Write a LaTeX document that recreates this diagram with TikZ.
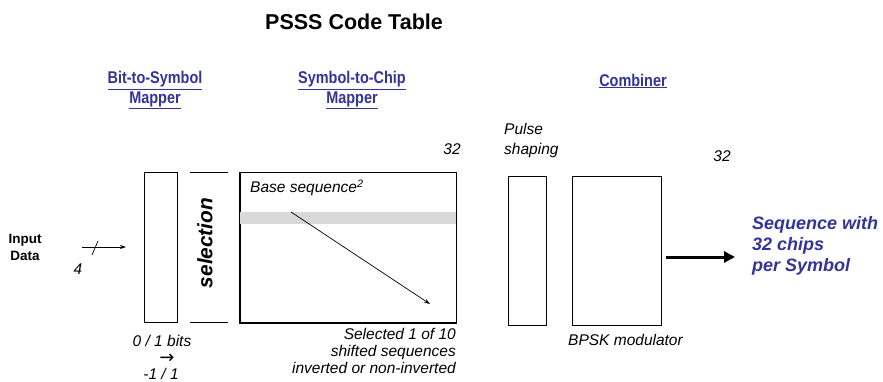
\documentclass[tikz,border=0pt]{standalone}
\usepackage{fontspec}
\setmainfont{Liberation Sans}
\newfontfamily\narrowfont[FakeStretch=0.85]{Liberation Sans}
\newfontfamily\symfont{DejaVu Sans}
\usetikzlibrary{arrows.meta}
\definecolor{hdblue}{HTML}{333399}
\tikzset{
  blk/.style={draw, line width=0.9pt, inner sep=0, fill=white},
  lbl/.style={inner sep=0, font=\fontsize{15.5}{17}\selectfont\itshape},
  hdr/.style={inner sep=0, align=center, text=hdblue,
    font=\narrowfont\bfseries\fontsize{17}{16}\selectfont},
  thinarrow/.style={line width=0.7pt, -{Stealth[length=6pt,width=4pt]}},
}
\begin{document}
\begin{tikzpicture}[x=1pt,y=-1pt]
\useasboundingbox (0,0) rectangle (883,381);
% title
\node[inner sep=0, font=\bfseries\fontsize{21.5}{24}\selectfont] (title) at (354,22) {PSSS Code Table};
% headers
\node[hdr] (h1) at (155,90) {\underline{Bit-to-Symbol}\\[1pt]\underline{Mapper}};
\node[hdr] (h2) at (352,90) {\underline{Symbol-to-Chip}\\[1pt]\underline{Mapper}};
\node[hdr] (h3) at (633,81) {\underline{Combiner}};
% input
\node[inner sep=0, align=center, font=\bfseries\fontsize{13.5}{17}\selectfont] (inp) at (25,247) {Input\\Data};
\coordinate (ia) at (82,247);
\coordinate (ib) at (126,247);
\draw[thinarrow] (ia) -- (ib);
\coordinate (s1) at (92,255);
\coordinate (s2) at (98,241);
\draw[line width=0.7pt] (s1) -- (s2);
\node[lbl] (four) at (78,269) {4};
% bit-to-symbol box
\node[blk, minimum width=33pt, minimum height=150pt] (bsm) at (160.5,247) {};
% selection
\coordinate (selt1) at (190,172);
\coordinate (selt2) at (228,172);
\coordinate (selb1) at (190,322);
\coordinate (selb2) at (228,322);
\draw[line width=0.9pt] (selt1) -- (selt2);
\draw[line width=0.9pt] (selb1) -- (selb2);
\node[inner sep=0, rotate=90, font=\bfseries\itshape\fontsize{20.8}{22}\selectfont] (sel) at (205,243) {selection};
% symbol-to-chip box
\node[blk, minimum width=216pt, minimum height=150pt] (scm) at (348,247.5) {};
\fill[black!15] (scm.west |- 0,212) rectangle (scm.east |- 0,224);
\draw[line width=0.9pt] (scm.south west) rectangle (scm.north east);
\node[lbl, anchor=west] (base) at (250,188) {Base sequence\textsuperscript{2}};
\coordinate (da) at (291,212);
\coordinate (db) at (430,304);
\draw[thinarrow] (da) -- (db);
\node[lbl] (n32a) at (452,149) {32};
\node[lbl, anchor=east, align=right] (selx) at (456,351) {Selected 1 of 10\\shifted sequences\\inverted or non-inverted};
% bits
\node[lbl] (bits) at (162,341) {0 / 1 bits};
\node[inner sep=0, font=\symfont\fontsize{18}{18}\selectfont] (bar) at (167,359) {→};
\node[lbl] (pm) at (161,374) {-1 / 1};
% combiner
\node[lbl, anchor=west, align=left] (pulse) at (504,140) {Pulse\\[3pt]shaping};
\node[blk, minimum width=38pt, minimum height=149pt] (ps) at (527,250.5) {};
\node[blk, minimum width=89pt, minimum height=149pt] (bpsk) at (616.5,250.5) {};
\node[lbl] (n32b) at (722,156) {32};
\node[lbl, anchor=west] (bpl) at (568,340) {BPSK modulator};
\coordinate (oa) at (666,257);
\coordinate (ob) at (735,257);
\draw[line width=3pt, -{Triangle[length=11pt,width=11pt]}] (oa) -- (ob);
\node[inner sep=0, anchor=west, align=left, text=hdblue,
  font=\bfseries\itshape\fontsize{18}{21}\selectfont] (outx) at (752,246) {Sequence with\\32 chips\\per Symbol};
\end{tikzpicture}
\end{document}
